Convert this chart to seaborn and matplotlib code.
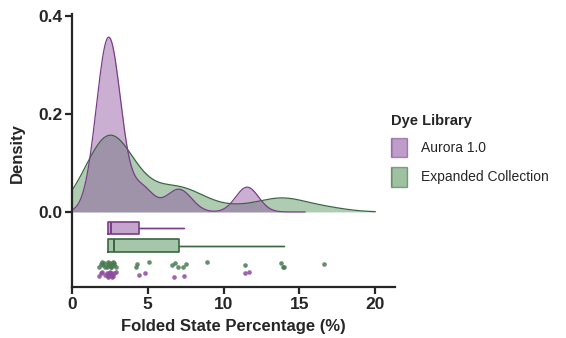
import numpy as np
import pandas as pd
import matplotlib
matplotlib.use("Agg")
import matplotlib.pyplot as plt
from matplotlib.patches import Patch
import seaborn as sns

# folded state percentages
aurora = [1.8, 1.9, 2.0, 2.2, 2.3, 2.4, 2.4, 2.45, 2.5, 2.55, 2.6, 2.65, 2.7, 2.8, 2.9,
          4.4, 4.8, 6.7, 7.4, 11.4, 11.7]
expanded = [1.8, 1.9, 2.0, 2.05, 2.1, 2.2, 2.3, 2.35, 2.4, 2.45, 2.5, 2.55, 2.6, 2.65, 2.7,
            2.75, 2.8, 2.9, 4.2, 4.3, 5.1, 6.6, 6.8, 7.0, 7.3, 7.5, 8.9, 11.4, 13.8, 13.9,
            14.0, 16.6]
groups = ["Aurora 1.0", "Expanded Collection"]
x_ticks = [0, 5, 10, 15, 20]
y_ticks = [0.0, 0.2, 0.4]

fill_cols = {"Aurora 1.0": "#8a4f9c", "Expanded Collection": "#4f8f55"}
edge_cols = {"Aurora 1.0": "#7a3c8a", "Expanded Collection": "#3b6642"}
dot_cols = {"Aurora 1.0": "#8e4a9e", "Expanded Collection": "#4a7a52"}
bw = {"Aurora 1.0": 0.46, "Expanded Collection": 0.7}
cut = {"Aurora 1.0": 5, "Expanded Collection": 3}

df = pd.DataFrame({
    "pct": aurora + expanded,
    "lib": [groups[0]] * len(aurora) + [groups[1]] * len(expanded),
})

sns.set_style("ticks")
plt.rcParams["font.family"] = ["Liberation Sans", "DejaVu Sans"]

fig = plt.figure(figsize=(5.66, 3.38), dpi=100)
ax = fig.add_axes([0.127, 0.151, 0.571, 0.808])

# density curves (green first so purple sits on top)
for g in [groups[1], groups[0]]:
    sub = df[df["lib"] == g]
    sns.kdeplot(data=sub, x="pct", ax=ax, fill=True, bw_adjust=bw[g], cut=cut[g], clip=(0, 20),
                color=fill_cols[g], alpha=0.45, linewidth=0)
    sns.kdeplot(data=sub, x="pct", ax=ax, fill=False, bw_adjust=bw[g], cut=cut[g], clip=(0, 20),
                color=edge_cols[g], linewidth=0.9)

# boxplots under the curves
box_y = {"Aurora 1.0": -0.033, "Expanded Collection": -0.069}
for g in groups:
    vals = df.loc[df["lib"] == g, "pct"]
    bp = ax.boxplot([vals], positions=[box_y[g]], widths=0.026, orientation="horizontal",
                    showfliers=False, showcaps=False, patch_artist=True, manage_ticks=False,
                    boxprops=dict(facecolor=fill_cols[g], alpha=0.5, edgecolor="none"),
                    medianprops=dict(color=edge_cols[g], linewidth=1.2),
                    whiskerprops=dict(color=edge_cols[g], linewidth=1.0))
    bp2 = ax.boxplot([vals], positions=[box_y[g]], widths=0.026, orientation="horizontal",
                     showfliers=False, showcaps=False, manage_ticks=False,
                     boxprops=dict(color=edge_cols[g], linewidth=1.2),
                     medianprops=dict(color=edge_cols[g], linewidth=1.2),
                     whiskerprops=dict(color=edge_cols[g], linewidth=1.0))
    # only the upper whisker is shown
    bp["whiskers"][0].set_visible(False)
    bp2["whiskers"][0].set_visible(False)

# raw points
strip_y = {"Aurora 1.0": -0.127, "Expanded Collection": -0.108}
for g in groups:
    vals = np.array(df.loc[df["lib"] == g, "pct"])
    jit = np.tile([-0.004, 0.002, 0.005, -0.001, 0.003, -0.005], len(vals))[:len(vals)]
    ax.scatter(vals, strip_y[g] + jit, s=11, color=dot_cols[g], alpha=0.85, linewidth=0, zorder=3)

ax.set_xlim(0, 21.3)
ax.set_ylim(-0.153, 0.404)
ax.set_xticks(x_ticks)
ax.set_yticks(y_ticks)
ax.set_yticklabels([f"{v:.1f}" for v in y_ticks])
for lab in ax.get_xticklabels() + ax.get_yticklabels():
    lab.set_fontweight("bold")
    lab.set_fontsize(12.5)
ax.tick_params(width=1.6, length=5, pad=2)
for s in ["left", "bottom"]:
    ax.spines[s].set_linewidth(1.6)
sns.despine(ax=ax)
ax.set_xlabel("Folded State Percentage (%)", fontsize=12, fontweight="bold", labelpad=5)
ax.set_ylabel("Density", fontsize=12, fontweight="bold")
ax.yaxis.set_label_coords(-0.145, 0.49)

handles = [Patch(facecolor=fill_cols[g], alpha=0.55, edgecolor=edge_cols[g], hatch="|", label=g)
           for g in groups]
leg = fig.legend(handles=handles, title="Dye Library", loc="upper left",
                 bbox_to_anchor=(0.668, 0.70), frameon=False, fontsize=10,
                 title_fontproperties={"weight": "bold", "size": 10.5},
                 handlelength=1.2, handleheight=1.8, handletextpad=1.0, labelspacing=0.7)
leg._legend_box.align = "left"

fig.savefig("out.png", dpi=100)
